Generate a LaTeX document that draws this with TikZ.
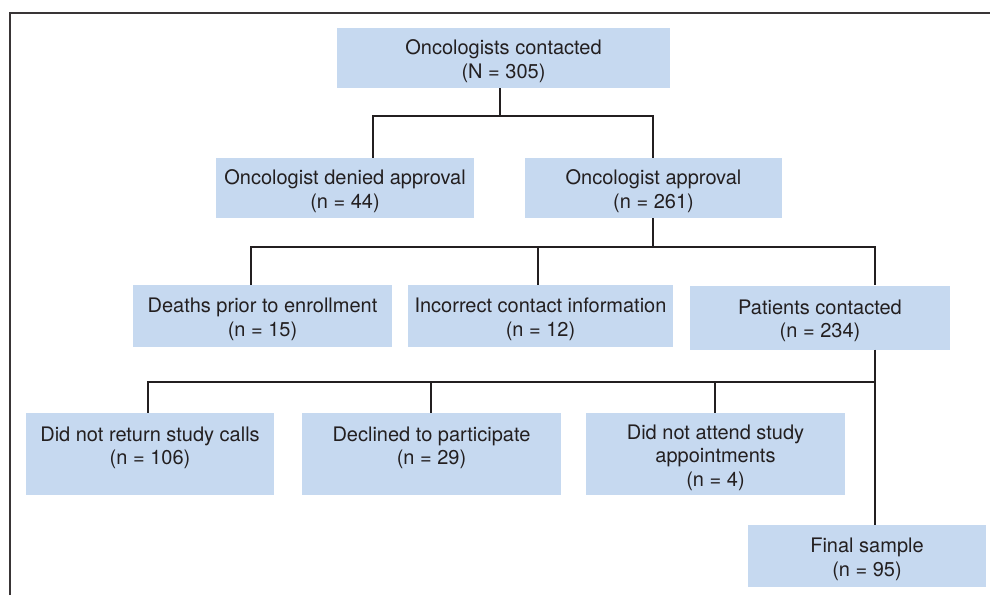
\documentclass[tikz,border=0pt]{standalone}
\usepackage{fontspec}
\setmainfont{TeX Gyre Heros}
\definecolor{boxfill}{HTML}{C6D9F0}
\definecolor{ink}{HTML}{231F20}
\newcommand\tg{\rule{0pt}{21pt}}
\begin{document}
\begin{tikzpicture}[x=1pt,y=-1pt,
  box/.style={fill=boxfill, draw=none, align=center, inner sep=0pt, text=ink,
    font=\fontsize{20}{23.5}\selectfont},
  conn/.style={draw=ink, line width=2.8pt},
  frameline/.style={draw=ink!90, line width=2pt}]
\useasboundingbox (0,0) rectangle (990,595);
\fill[white] (0,0) rectangle (990,595);
\draw[frameline] (10,595) -- (10,13) -- (990,13);

\node[box, minimum width=333, minimum height=60] (top) at (503.5,58) {\tg Oncologists contacted\\(N = 305)};
\node[box, minimum width=258, minimum height=60] (denied) at (345,188) {\tg Oncologist denied approval\\(n = 44)};
\node[box, minimum width=257, minimum height=60] (approval) at (653.5,188) {\tg Oncologist approval\\(n = 261)};

\node[box, minimum width=259, minimum height=62] (deaths) at (262.5,316) {\tg Deaths prior to enrollment\\(n = 15)};
\node[box, minimum width=265, minimum height=62] (incorrect) at (540.5,316) {\tg Incorrect contact information\\(n = 12)};
\node[box, minimum width=260, minimum height=64] (patients) at (820,317.5) {\tg Patients contacted\\(n = 234)};

\node[box, minimum width=248, minimum height=82] (noreturn) at (150,454) {\tg Did not return study calls\\(n = 106)\\\mbox{}};
\node[box, minimum width=259, minimum height=82] (declined) at (431.5,454) {\tg Declined to participate\\(n = 29)\\\mbox{}};
\node[box, minimum width=259, minimum height=82] (attend) at (715.5,454) {\rule{0pt}{22pt}Did not attend study\\appointments\\(n = 4)};
\node[box, minimum width=238, minimum height=62] (final) at (867,556) {\tg Final sample\\(n = 95)};

% level 1
\coordinate (b1) at (500,116);
\coordinate (b1l) at (373,116);
\coordinate (b1r) at (653,116);
\draw[conn] (top.south -| b1) -- (b1);
\draw[conn] (denied.north -| b1l) |- (b1r) -- (approval.north -| b1r);

% level 2
\coordinate (b2) at (653,247);
\coordinate (b2l) at (251,247);
\coordinate (b2m) at (538,247);
\coordinate (b2r) at (875,247);
\draw[conn] (approval.south -| b2) -- (b2);
\draw[conn] (deaths.north -| b2l) |- (b2r) -- (patients.north -| b2r);
\draw[conn] (b2m) -- (incorrect.north -| b2m);

% level 3
\coordinate (b3) at (875,382);
\coordinate (b3a) at (148,382);
\coordinate (b3b) at (431,382);
\coordinate (b3c) at (715,382);
\draw[conn] (patients.south -| b3) -- (final.north -| b3);
\draw[conn] (noreturn.north -| b3a) |- (b3);
\draw[conn] (b3b) -- (declined.north -| b3b);
\draw[conn] (b3c) -- (attend.north -| b3c);
\end{tikzpicture}
\end{document}
